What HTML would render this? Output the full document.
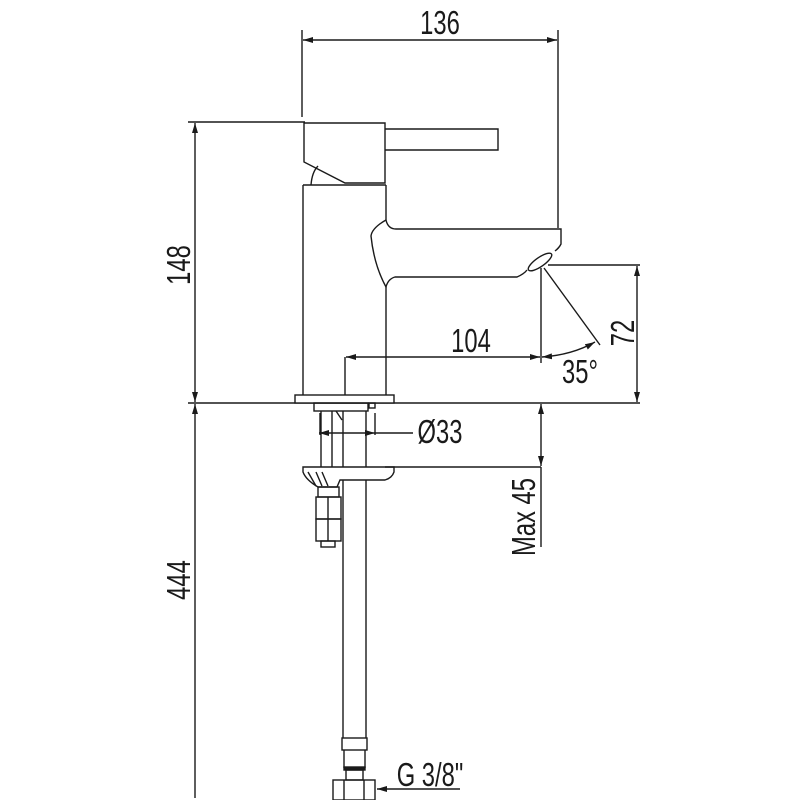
<!DOCTYPE html>
<html><head><meta charset="utf-8"><style>
html,body{margin:0;padding:0;background:#fff;}
svg{display:block;}
text{font-family:"Liberation Sans",sans-serif;fill:#1a1a1a;}
</style></head><body>
<svg width="800" height="800" viewBox="0 0 800 800" xmlns="http://www.w3.org/2000/svg">
<defs>
<marker id="a" viewBox="0 0 10 6" refX="10" refY="3" markerWidth="10" markerHeight="6" markerUnits="userSpaceOnUse" orient="auto-start-reverse"><path d="M0,0 L10,3 L0,6 z" fill="#1a1a1a"/></marker>
</defs>
<g stroke="#1a1a1a" stroke-width="1.4" fill="none">
<line x1="302" y1="30" x2="302" y2="117"/>
<line x1="558" y1="30" x2="558" y2="228"/>
<line x1="303" y1="40" x2="557" y2="40" marker-start="url(#a)" marker-end="url(#a)"/>
<line x1="188" y1="122" x2="305" y2="122"/>
<line x1="195" y1="123" x2="195" y2="402" marker-start="url(#a)" marker-end="url(#a)"/>
<line x1="188" y1="403" x2="640" y2="403"/>
<line x1="195" y1="404" x2="195" y2="798" marker-start="url(#a)"/>
<path d="M304,123 L385,123 L385,183 L345,183 L304,162 Z" fill="#fff"/>
<path d="M385,129 L498,129 L498,150 L385,150"/>
<path d="M311,185 Q312,172 318,166"/>
<line x1="303" y1="185" x2="303" y2="395"/>
<line x1="303" y1="185" x2="386" y2="185"/>
<line x1="386" y1="185" x2="386" y2="220"/>
<line x1="386" y1="287" x2="386" y2="395"/>
<path d="M386,220 Q372,228 371,236 Q374,265 386,287 Q388,279 395,277 L517,277 Q524,274 527,270"/>
<path d="M386,220 Q388,229 396,229 L561,229 L561,244 Q559,248 555,251"/>
<ellipse cx="540" cy="262" rx="14" ry="4.5" transform="rotate(-35 540 262)"/>
<rect x="295" y="395" width="99" height="8" fill="#fff"/>
<line x1="345" y1="357" x2="345" y2="395"/>
<line x1="346" y1="357" x2="540" y2="357" marker-start="url(#a)" marker-end="url(#a)"/>
<line x1="541" y1="268" x2="541" y2="363"/>
<line x1="548" y1="265" x2="640" y2="265"/>
<line x1="637" y1="266" x2="637" y2="402" marker-start="url(#a)" marker-end="url(#a)"/>
<line x1="544" y1="268" x2="600" y2="345"/>
<path d="M542,357 Q572,355 595,342" marker-start="url(#a)" marker-end="url(#a)"/>
<rect x="314" y="403" width="54" height="8"/>
<rect x="369" y="403" width="6" height="5"/>
<line x1="320" y1="413" x2="320" y2="435"/>
<line x1="375" y1="413" x2="375" y2="435"/>
<line x1="319" y1="433" x2="375" y2="433" marker-start="url(#a)" marker-end="url(#a)"/>
<line x1="375" y1="433" x2="413" y2="433"/>
<line x1="321" y1="411" x2="321" y2="467"/>
<line x1="332" y1="411" x2="332" y2="467"/>
<path d="M336,411 L342,420"/>
<line x1="343" y1="411" x2="343" y2="738"/>
<line x1="366" y1="411" x2="366" y2="738"/>
<path d="M303,467 L394,467 L394,472 Q392,478 385,480 L340,480 L337,487 L318,487 Q306,480 303,472 Z" fill="#fff"/>
<path d="M308,472 L316,486 M316,472 L322,486 M322,472 L328,486"/>
<rect x="318" y="487" width="21" height="10"/>
<rect x="316" y="497" width="25" height="22"/>
<rect x="316" y="519" width="25" height="22"/>
<line x1="328" y1="497" x2="328" y2="541"/>
<rect x="321" y="541" width="14" height="6"/>
<line x1="385" y1="467" x2="541" y2="467"/>
<line x1="541" y1="404" x2="541" y2="466" marker-start="url(#a)" marker-end="url(#a)"/>
<line x1="541" y1="467" x2="541" y2="547"/>
<rect x="342" y="738" width="25" height="12"/>
<line x1="344" y1="750" x2="344" y2="768"/>
<line x1="365" y1="750" x2="365" y2="768"/>
<rect x="344" y="767" width="21" height="3" fill="#1a1a1a"/>
<rect x="346" y="770" width="17" height="10"/>
<rect x="333" y="780" width="42" height="20"/>
<line x1="344" y1="780" x2="344" y2="800"/>
<line x1="364" y1="780" x2="364" y2="800"/>
<line x1="377" y1="789" x2="460" y2="789" marker-start="url(#a)"/>
</g>
<g font-size="33">
<text transform="translate(440 34) scale(0.72 1)" text-anchor="middle">136</text>
<text transform="translate(190 265) rotate(-90) scale(0.72 1)" text-anchor="middle">148</text>
<text transform="translate(190 580) rotate(-90) scale(0.72 1)" text-anchor="middle">444</text>
<text transform="translate(471 352) scale(0.72 1)" text-anchor="middle">104</text>
<text transform="translate(634 333) rotate(-90) scale(0.72 1)" text-anchor="middle">72</text>
<text transform="translate(580 383) scale(0.72 1)" text-anchor="middle">35°</text>
<text transform="translate(440 443) scale(0.72 1)" text-anchor="middle">Ø33</text>
<text transform="translate(535 517) rotate(-90) scale(0.72 1)" text-anchor="middle">Max 45</text>
<text transform="translate(430 786) scale(0.72 1)" text-anchor="middle">G 3/8"</text>
</g>
</svg>
</body></html>
